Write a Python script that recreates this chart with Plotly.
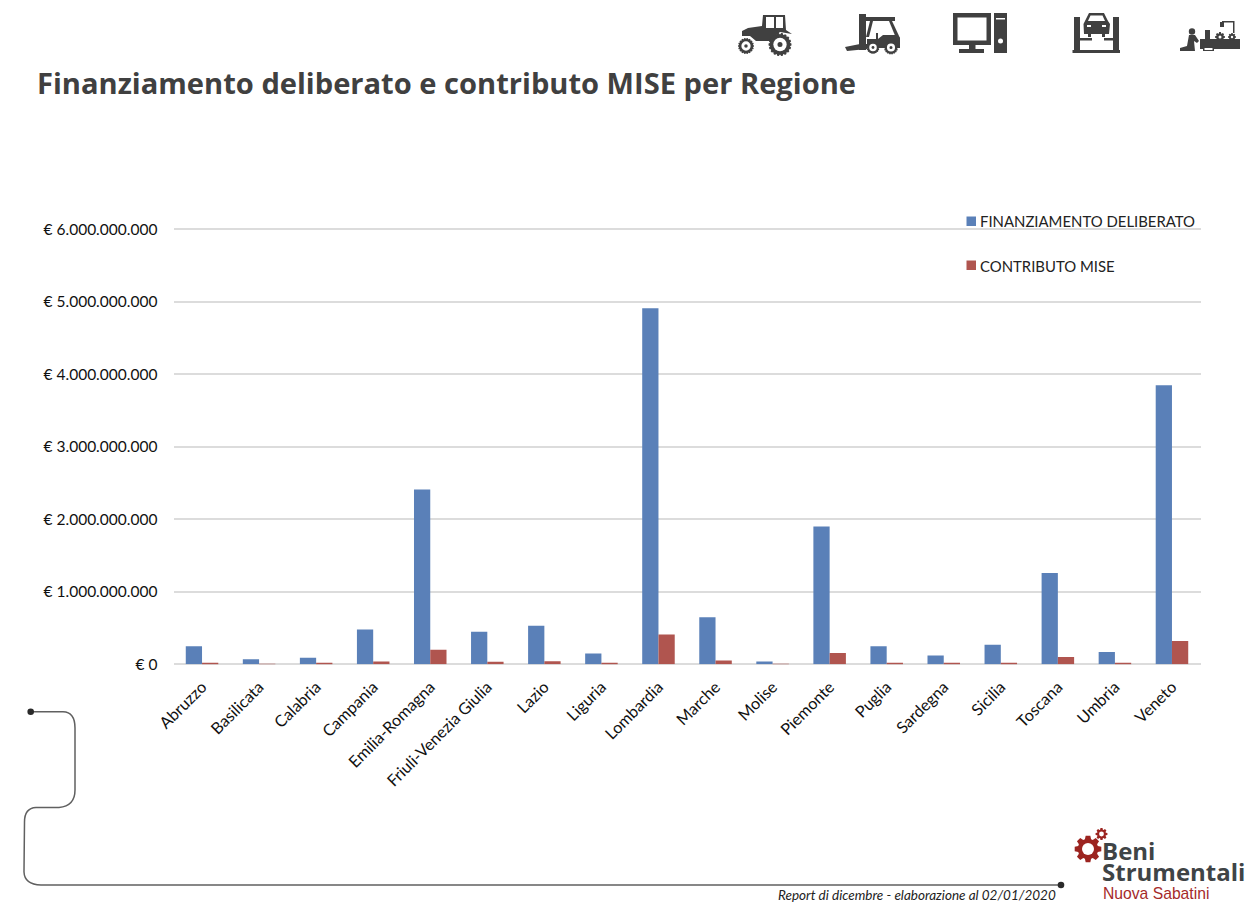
import math
import plotly.graph_objects as go

W, H = 1255, 912

# Regional totals in euro
regioni = ["Abruzzo", "Basilicata", "Calabria", "Campania", "Emilia-Romagna", "Friuli-Venezia Giulia",
           "Lazio", "Liguria", "Lombardia", "Marche", "Molise", "Piemonte", "Puglia", "Sardegna",
           "Sicilia", "Toscana", "Umbria", "Veneto"]
finanziamento = [250e6, 70e6, 90e6, 480e6, 2410e6, 450e6, 530e6, 150e6, 4910e6, 650e6, 40e6,
                 1900e6, 250e6, 120e6, 270e6, 1260e6, 170e6, 3850e6]
contributo = [20e6, 6e6, 8e6, 40e6, 200e6, 36e6, 42e6, 12e6, 410e6, 52e6, 3e6,
              155e6, 20e6, 10e6, 22e6, 100e6, 14e6, 320e6]
tick_valori = [0, 1e9, 2e9, 3e9, 4e9, 5e9, 6e9]
tick_etichette = ["€ 0", "€ 1.000.000.000", "€ 2.000.000.000", "€ 3.000.000.000",
                  "€ 4.000.000.000", "€ 5.000.000.000", "€ 6.000.000.000"]

BLU = "#5a80b8"
ROSSO = "#b0554f"
SCURO = "#404040"
GEAR = "#9c2420"
GRIGLIA = "#dcdcdc"


def px(x):
    return x / W


def py(y):
    return 1 - y / H


shapes = []


def polygon(points, color=SCURO):
    d = "M" + " L".join(f"{px(x):.5f},{py(y):.5f}" for x, y in points) + " Z"
    shapes.append(dict(type="path", xref="paper", yref="paper", path=d,
                       fillcolor=color, line=dict(width=0), layer="above"))


def rect(x0, y0, x1, y1, color=SCURO):
    polygon([(x0, y0), (x1, y0), (x1, y1), (x0, y1)], color)


def circle(cx, cy, r, color=SCURO):
    shapes.append(dict(type="circle", xref="paper", yref="paper",
                       x0=px(cx - r), x1=px(cx + r), y0=py(cy + r), y1=py(cy - r),
                       fillcolor=color, line=dict(width=0), layer="above"))


def gear(cx, cy, r, teeth, hole, color, root=0.76):
    pts = []
    step = 2 * math.pi / teeth
    for i in range(teeth):
        a = i * step
        for off, rad in ((-0.30, root), (-0.17, 1.0), (0.17, 1.0), (0.30, root)):
            t = a + off * step * 1.3
            pts.append((cx + rad * r * math.cos(t), cy + rad * r * math.sin(t)))
    polygon(pts, color)
    circle(cx, cy, hole, "white")


def wheel(cx, cy, r):
    gear(cx, cy, r, 18, r * 0.58, SCURO, root=0.9)
    circle(cx, cy, r * 0.22, SCURO)


# Tractor
polygon([(763, 15), (785, 15), (786, 30), (792, 34), (780, 32), (770, 41), (756, 41), (750, 36),
         (742, 36), (742, 31), (748, 28), (762, 26)])
rect(766, 17, 774, 28, "white")
rect(776, 17, 783, 28, "white")
wheel(780, 44.5, 11.5)
wheel(746, 46, 8)

# Forklift
polygon([(845, 47), (860, 44), (867, 44), (867, 49), (847, 51)])
rect(859, 14, 866, 50)
rect(866, 17, 895, 21)
polygon([(870, 21), (873, 21), (869, 37), (866, 37)])
polygon([(889, 21), (892, 21), (900, 38), (896, 38)])
polygon([(867, 39), (878, 39), (883, 35), (897, 35), (900, 38), (900, 48), (867, 48)])
rect(876, 33, 878, 39)
wheel(873, 47.5, 6.5)
wheel(891, 47.5, 7)

# Desktop computer
rect(953, 13, 991, 45)
rect(957.5, 17.5, 986.5, 40.5, "white")
rect(969, 45, 975.5, 50)
rect(959, 49, 984, 53)
rect(994, 13, 1007, 53)
rect(996, 18, 1005, 19.5, "white")
circle(1000.5, 41, 2.5, "white")

# Car lift
rect(1074, 17, 1080, 52)
rect(1113, 17, 1119, 52)
rect(1072.5, 50, 1120, 53)
rect(1080, 38, 1092, 40.5)
rect(1104, 38, 1113, 40.5)
polygon([(1089, 13), (1104, 13), (1108, 21), (1110, 24), (1109, 34), (1084, 34), (1083.5, 24), (1085, 21)])
polygon([(1090.5, 15.5), (1102.5, 15.5), (1105, 21), (1088, 21)], "white")
rect(1087, 25, 1091, 27, "white")
rect(1102, 25, 1106, 27, "white")
rect(1088, 31, 1091, 37)
rect(1102, 31, 1105, 37)

# Mechanic at the machinery
circle(1192, 31.5, 3.2)
polygon([(1189, 35), (1195, 35), (1199, 41), (1197, 43), (1194, 41), (1195, 51), (1180, 51), (1180, 48), (1187, 46)])
rect(1200, 39, 1240, 49)
gear(1220, 37, 5, 8, 1.5, SCURO)
gear(1232, 37, 4, 8, 1.2, SCURO)
rect(1205, 30, 1210, 39)
rect(1203, 47, 1214, 51, SCURO)
rect(1204.5, 48, 1212.5, 50, "white")
rect(1222, 21, 1234, 22.5)
rect(1233, 21, 1234.5, 33)
rect(1220, 22, 1224, 27)

# Connector running along the page
d = (f"M{px(30.7)},{py(711.7)} L{px(63)},{py(711.7)} "
     f"Q{px(75)},{py(712)} {px(75)},{py(728)} L{px(75)},{py(790)} "
     f"Q{px(75)},{py(806)} {px(59)},{py(807.5)} L{px(36)},{py(807.5)} "
     f"Q{px(24.5)},{py(808)} {px(24.5)},{py(822)} L{px(24)},{py(872)} "
     f"Q{px(24.5)},{py(884.5)} {px(41)},{py(885)} L{px(1061)},{py(885)}")
shapes.append(dict(type="path", xref="paper", yref="paper", path=d,
                   line=dict(color="#606060", width=1.5), layer="above"))
circle(30.7, 711.7, 3.3, "#2a2a2a")
circle(1061, 885, 3.3, "#2a2a2a")

# Logo gears
gear(1088, 849, 13.5, 8, 6, GEAR)
gear(1101.5, 834, 6, 8, 2.4, GEAR)

# Legend swatches
rect(966.5, 216.5, 976, 226, BLU)
rect(966.5, 260.5, 976, 270, ROSSO)


def testo(x, y, text, size, family, color):
    return dict(xref="paper", yref="paper", x=px(x), y=py(y), text=text, showarrow=False,
                xanchor="left", yanchor="middle", align="left",
                font=dict(size=size, family=family, color=color))


annotations = [
    testo(34.5, 83, "<b>Finanziamento deliberato e contributo MISE per Regione</b>", 29.1, "Open Sans", SCURO),
    testo(978, 221, "FINANZIAMENTO DELIBERATO", 14.9, "Lato", "#222222"),
    testo(978, 265.5, "CONTRIBUTO MISE", 14.9, "Lato", "#222222"),
    testo(776, 895, "<i>Report di dicembre - elaborazione al 02/01/2020</i>", 13.5, "Lato", "#222222"),
    testo(1099.5, 850, "<b>Beni</b>", 24, "Open Sans", "#3f4446"),
    testo(1099.5, 871.5, "<b>Strumentali</b>", 24, "Open Sans", "#3f4446"),
    testo(1101, 893, "Nuova Sabatini", 15.7, "Liberation Sans", "#a52a2a"),
]

fig = go.Figure()
fig.add_bar(name="FINANZIAMENTO DELIBERATO", x=regioni, y=finanziamento, marker_color=BLU, marker_line_width=0)
fig.add_bar(name="CONTRIBUTO MISE", x=regioni, y=contributo, marker_color=ROSSO, marker_line_width=0)

# The value range runs just past the top tick so its gridline stays drawn
fig.update_layout(
    width=W, height=H,
    margin=dict(l=0, r=0, t=0, b=0, pad=0),
    paper_bgcolor="white", plot_bgcolor="white",
    barmode="group", bargap=0.43, bargroupgap=0,
    showlegend=False,
    font=dict(family="Lato", size=15.5, color="#111111"),
    shapes=shapes, annotations=annotations,
    xaxis=dict(domain=[173.5 / W, 1200.5 / W], tickangle=-45, automargin=False, showgrid=False,
               showline=False, zeroline=False, ticks="outside", ticklen=6, tickcolor="rgba(0,0,0,0)",
               categoryorder="array", categoryarray=regioni, tickfont=dict(size=16.2, family="Lato")),
    yaxis=dict(domain=[1 - 664.3 / H, 1 - 227.8 / H], range=[0, 6.02e9], tickmode="array",
               tickvals=tick_valori, ticktext=tick_etichette, automargin=False,
               gridcolor=GRIGLIA, gridwidth=1.5, zeroline=True, zerolinecolor=GRIGLIA, zerolinewidth=1.5,
               showline=False, ticks="outside", ticklen=12, tickcolor="rgba(0,0,0,0)",
               tickfont=dict(size=15.5, family="Lato")),
)

fig.write_html("out.html")
